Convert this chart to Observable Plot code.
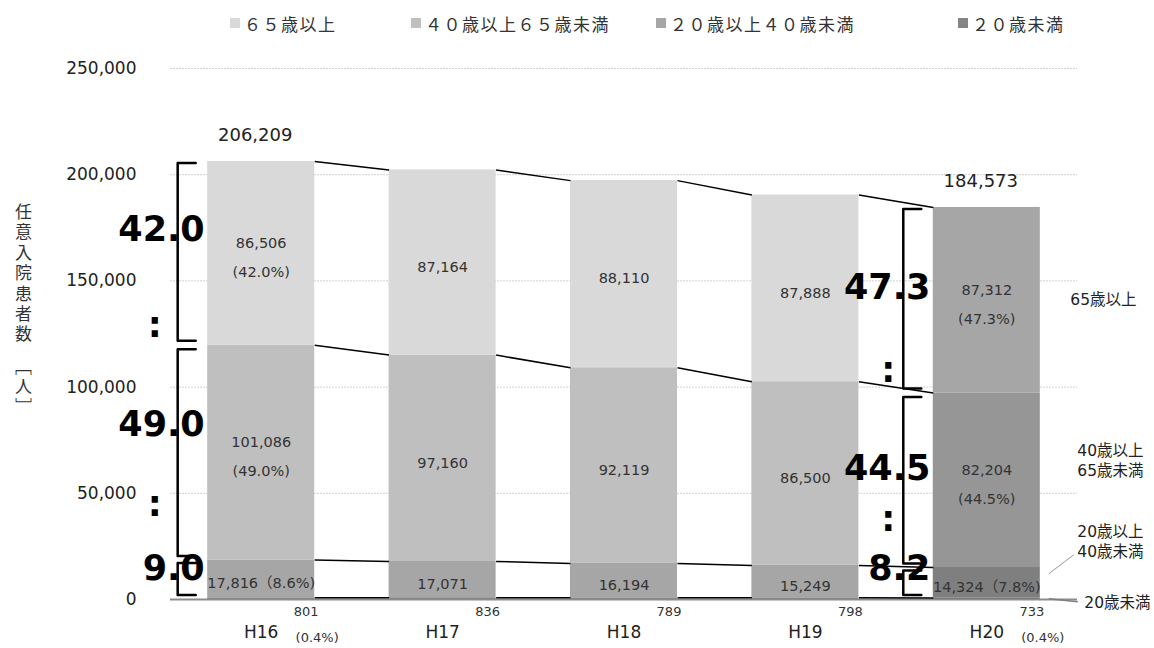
<!DOCTYPE html>
<html><head><meta charset="utf-8">
<script src="https://cdn.jsdelivr.net/npm/d3@7"></script>
<script src="https://cdn.jsdelivr.net/npm/@observablehq/plot@0.6"></script>
<style>
body{margin:0;background:#fff;font-family:"DejaVu Sans","Noto Sans CJK JP",sans-serif;}
#wrap{position:relative;width:1154px;height:648px;overflow:hidden;}
#legend{position:relative;height:46px;}
.li{position:absolute;top:12px;height:22px;display:flex;align-items:center;font-size:17px;color:#333;font-family:"Noto Sans CJK JP";white-space:nowrap;letter-spacing:1.5px;}
.sw{display:inline-block;width:10px;height:10px;margin-right:4px;}
#ylab{position:absolute;left:11px;top:203px;writing-mode:vertical-rl;font-size:17px;letter-spacing:3.4px;font-family:"Noto Sans CJK JP";color:#333;}
</style></head>
<body><div id="wrap"><div id="legend"></div><div id="chart"></div><div id="ylab">任意入院患者数　［人］</div></div>
<script>
// ---- data ----
const years = ["H16","H17","H18","H19","H20"];
const groups = ["６５歳以上","４０歳以上６５歳未満","２０歳以上４０歳未満","２０歳未満"];
const age65plus = [86506,87164,88110,87888,87312];
const age40to65 = [101086,97160,92119,86500,82204];
const age20to40 = [17816,17071,16194,15249,14324];
const under20   = [801,836,789,798,733];
const yTicks = [0,50000,100000,150000,200000,250000];
const sideLabels = ["65歳以上","40歳以上\n65歳未満","20歳以上\n40歳未満","20歳未満"];
const highlightYears = ["H16","H20"];

// ---- styles / layout ----
const baseColors = ["#d9d9d9","#bfbfbf","#a6a6a6","#858585"];
const hiColors   = ["#a6a6a6","#969696","#7f7f7f","#666666"];
const legendLeft = [230,411,656,958];
const W=1154, H=602, mL=170, mR=77, mT=22, mB=49;
const plotW=W-mL-mR, plotH=H-mT-mB;
const half=0.295;
const xpx = p => p*5/plotW;          // pixel offset -> x units
const ypx = p => p*250000/plotH;     // pixel offset -> y units (upward positive)
const ratioDy = {H16:[-24,-28,-11], H20:[-12,-11,-15]};
const colonDy = {H16:[-19,-55], H20:[-22,-48]};
const colonDx = {H16:-53, H20:-45};
const sideDx = [30,37,37,44];
const sideDy = [-2,-21,-42,3];

// legend
const lg = document.getElementById("legend");
groups.forEach((g,k)=>{
  const d=document.createElement("div"); d.className="li"; d.style.left=legendLeft[k]+"px";
  d.innerHTML=`<span class="sw" style="background:${baseColors[k]}"></span>${g}`;
  lg.appendChild(d);
});

// ---- derived ----
const series = [age65plus, age40to65, age20to40, under20];
const fmt = d3.format(",");
const pct = (v,t) => (v/t*100).toFixed(1);
const totals = years.map((_,i)=>series.reduce((s,a)=>s+a[i],0));
const rows=[]; const bounds=[[],[],[],[]]; // cum1,cum2,cum3,total
years.forEach((yr,i)=>{
  let cum=0;
  [3,2,1,0].forEach((g,j)=>{
    const v=series[g][i];
    rows.push({i,yr,g,v,y1:cum,y2:cum+v,hi:highlightYears.includes(yr)});
    cum+=v; bounds[j].push(cum);
  });
});
const links=[];
bounds.forEach(b=>{for(let i=0;i<4;i++) links.push({x1:i+half,x2:i+1-half,y1:b[i],y2:b[i+1]});});

const barLabels = rows.filter(r=>r.g<3).map(r=>{
  let t=fmt(r.v);
  if(r.hi){ const p=pct(r.v,totals[r.i]); t = r.g<2 ? `${t}\n(${p}%)` : `${t}（${p}%)`; }
  return {x:r.i,y:(r.y1+r.y2)/2,t};
});

// brackets and ratios
const insets=[[1.5,4.5],[4,4],[3,4.5]];
const bracketPts=[]; const ratioTxt=[]; const colonTxt=[];
highlightYears.forEach(yr=>{
  const i=years.indexOf(yr);
  const segs=[[bounds[2][i],bounds[3][i]],[bounds[1][i],bounds[2][i]],[0,bounds[1][i]]];
  const xv=i-half-xpx(30), xs=i-half-xpx(12);
  segs.forEach(([lo,hi],k)=>{
    const top=hi-ypx(insets[k][0]), bot=lo+ypx(insets[k][1]);
    const z=yr+k;
    bracketPts.push({x:xs,y:top,z},{x:xv,y:top,z},{x:xv,y:bot,z},{x:xs,y:bot,z});
    ratioTxt.push({x:i-half-xpx(3),y:(lo+hi)/2-ypx(ratioDy[yr][k]),t:pct(hi-lo,totals[i])});
    if(k<2) colonTxt.push({x:i-half+xpx(colonDx[yr]),y:lo-ypx(colonDy[yr][k])});
  });
});

const last=years.length-1;
const lastSegMid=[3,2,1,0].map(g=>{const r=rows.find(r=>r.i===last&&r.g===g);return (r.y1+r.y2)/2;}).reverse();
const sideRows=sideLabels.map((t,k)=>({x:last+half+xpx(sideDx[k]),y:lastSegMid[k]-ypx(sideDy[k]),t}));
const leaders=[
  {x1:last+half+xpx(8.5),x2:last+half+xpx(33.5),y1:lastSegMid[2]+ypx(9),y2:lastSegMid[2]+ypx(28),w:0.8},
  {x1:last+half+xpx(8.5),x2:last+half+xpx(37.5),y1:lastSegMid[3],y2:lastSegMid[3]-ypx(3),w:1.5}
];
const under20Rows=years.map((yr,i)=>({x:i,t:fmt(under20[i])}));
const under20Pct=highlightYears.map(yr=>{const i=years.indexOf(yr);return {x:i,t:`(${pct(under20[i],totals[i])}%)`};});

const chart = Plot.plot({
  width:W,height:H,marginLeft:mL,marginRight:mR,marginTop:mT,marginBottom:mB,
  x:{domain:[-0.5,4.5],axis:null},
  y:{domain:[0,250000],axis:null},
  style:{fontFamily:'"DejaVu Sans","Noto Sans CJK JP",sans-serif',fontSize:"14px",color:"#333",background:"#fff",overflow:"visible"},
  marks:[
    Plot.gridY(yTicks,{stroke:"#d0d0d0",strokeOpacity:1,strokeDasharray:"2,1"}),
    Plot.axisY(yTicks,{tickSize:0,tickPadding:34,tickFormat:d3.format(","),fontSize:17,label:null,fill:"#222"}),
    Plot.rect(rows,{x1:d=>d.i-half,x2:d=>d.i+half,y1:"y1",y2:"y2",fill:d=>(d.hi&&d.i===last?hiColors:baseColors)[d.g]}),
    Plot.ruleY([0],{stroke:"#8c8c8c",strokeWidth:2}),
    Plot.link(links,{x1:"x1",x2:"x2",y1:"y1",y2:"y2",stroke:"#000",strokeWidth:1.5}),
    Plot.text(barLabels,{x:"x",y:"y",text:"t",fontSize:14.5,lineHeight:2,fill:"#333"}),
    Plot.text(years.map((yr,i)=>({i,yr,t:totals[i]})).filter(d=>highlightYears.includes(d.yr)),{x:"i",y:"t",text:d=>fmt(d.t),dy:-26,dx:-6,fontSize:18,fill:"#222"}),
    Plot.text(years,{x:(d,i)=>i,y:0,text:d=>d,dy:33,fontSize:17,fill:"#222"}),
    Plot.text(under20Rows,{x:"x",y:0,text:"t",dx:45,dy:12,fontSize:13,fill:"#333"}),
    Plot.text(under20Pct,{x:"x",y:0,text:"t",dx:56,dy:38,fontSize:13,fill:"#333"}),
    Plot.text(ratioTxt,{x:"x",y:"y",text:"t",textAnchor:"end",fontSize:35,fontWeight:"bold",fill:"#000"}),
    Plot.text(colonTxt,{x:"x",y:"y",text:()=>":",fontSize:35,fontWeight:"bold",fill:"#000"}),
    Plot.line(bracketPts,{x:"x",y:"y",z:"z",stroke:"#000",strokeWidth:2.5,curve:"linear"}),
    Plot.text(sideRows,{x:"x",y:"y",text:"t",textAnchor:"start",fontSize:15.5,lineHeight:1.3,fill:"#222"}),
    Plot.link(leaders,{x1:"x1",x2:"x2",y1:"y1",y2:"y2",stroke:"#7f7f7f",strokeWidth:d=>d.w})
  ]
});
document.getElementById("chart").appendChild(chart);
</script></body></html>
